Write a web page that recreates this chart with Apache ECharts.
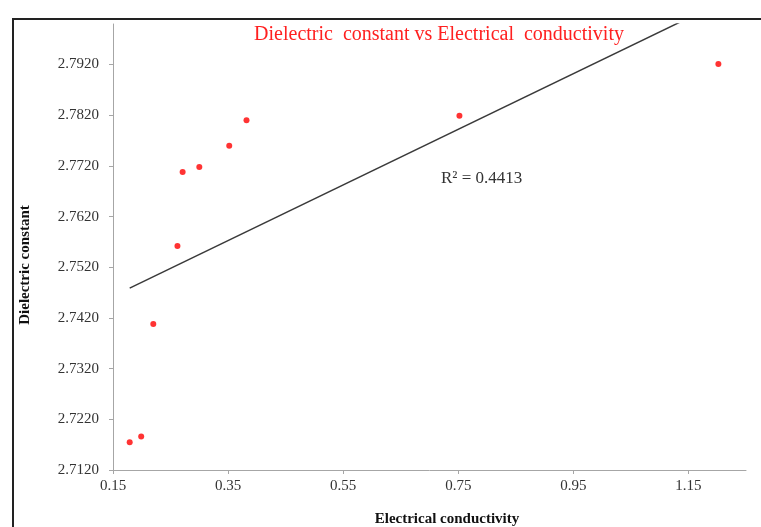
<!DOCTYPE html>
<html>
<head>
<meta charset="utf-8">
<script src="https://cdn.jsdelivr.net/npm/echarts@6/dist/echarts.min.js"></script>
<style>html,body{margin:0;padding:0;background:#fff}#c{width:761px;height:527px}</style>
</head>
<body>
<div id="c"></div>
<script>
const conductivity = [0.179, 0.199, 0.220, 0.262, 0.271, 0.300, 0.352, 0.382, 0.752, 1.202];
const dielectric   = [2.7175, 2.7186, 2.7408, 2.7562, 2.7708, 2.7718, 2.7760, 2.7810, 2.7819, 2.7921];
const xTicks = [0.15, 0.35, 0.55, 0.75, 0.95, 1.15];
const yTicks = [2.712, 2.722, 2.732, 2.742, 2.752, 2.762, 2.772, 2.782, 2.792];
const titleText = 'Dielectric  constant vs Electrical  conductivity';
const xName = 'Electrical conductivity';
const yName = 'Dielectric constant';
const r2Text = 'R\u00B2 = 0.4413';

// linear least squares trendline (Excel-style), derived from the data
const n = conductivity.length;
const mx = conductivity.reduce((a, b) => a + b, 0) / n;
const my = dielectric.reduce((a, b) => a + b, 0) / n;
let sxy = 0, sxx = 0;
for (let i = 0; i < n; i++) { sxy += (conductivity[i] - mx) * (dielectric[i] - my); sxx += (conductivity[i] - mx) ** 2; }
const slope = sxy / sxx, icpt = my - slope * mx;
const xMin = Math.min(...conductivity), xMax = Math.max(...conductivity);
const trend = [[xMin, icpt + slope * xMin], [xMax, icpt + slope * xMax]];

const serif = 'Liberation Serif';
const chart = echarts.init(document.getElementById('c'), null, { renderer: 'canvas' });
chart.setOption({
  animation: false,
  backgroundColor: '#ffffff',
  title: {
    text: titleText, left: 434, top: 20, textAlign: 'center',
    textStyle: { color: '#ff2020', fontFamily: serif, fontSize: 20, fontWeight: 'normal' }
  },
  grid: { left: 113, right: 15, top: 24, bottom: 57 },
  xAxis: {
    type: 'value', min: 0.15, max: 1.25,
    splitLine: { show: false },
    axisLine: { show: true, lineStyle: { color: '#a6a6a6', width: 1 } },
    axisTick: { show: true, length: 4, customValues: xTicks, lineStyle: { color: '#a6a6a6' } },
    axisLabel: { customValues: xTicks, color: '#333', fontFamily: serif, fontSize: 15, margin: 9,
      formatter: v => v.toFixed(2) }
  },
  yAxis: {
    type: 'value', min: 2.712, max: 2.8,
    splitLine: { show: false },
    axisLine: { show: true, lineStyle: { color: '#a6a6a6', width: 1 } },
    axisTick: { show: true, length: 4, customValues: yTicks, lineStyle: { color: '#a6a6a6' } },
    axisLabel: { customValues: yTicks, color: '#333', fontFamily: serif, fontSize: 15, margin: 14,
      formatter: v => v.toFixed(4) }
  },
  series: [
    {
      type: 'line', data: trend, symbol: 'none', clip: true,
      lineStyle: { color: '#3a3a3a', width: 1.5 }, z: 2
    },
    {
      type: 'scatter', data: conductivity.map((x, i) => [x, dielectric[i]]),
      symbol: 'circle', symbolSize: 6, itemStyle: { color: '#ff0000' }, z: 3
    }
  ],
  graphic: [
    { type: 'line', shape: { x1: 13, y1: 19, x2: 13, y2: 527 }, style: { stroke: '#222', lineWidth: 2 } },
    { type: 'line', shape: { x1: 12, y1: 19, x2: 761, y2: 19 }, style: { stroke: '#222', lineWidth: 2 } },
    { type: 'text', x: 447, y: 519, style: { text: xName, fill: '#111', font: 'bold 15px "Liberation Serif"',
      textAlign: 'center', textVerticalAlign: 'middle' } },
    { type: 'text', x: 25, y: 265, rotation: Math.PI / 2, style: { text: yName, fill: '#111',
      font: 'bold 15px "Liberation Serif"', textAlign: 'center', textVerticalAlign: 'middle' } },
    { type: 'text', x: 441, y: 179, style: { text: r2Text, fill: '#333', font: '17px "Liberation Serif"',
      textAlign: 'left', textVerticalAlign: 'middle' } }
  ]
});
</script>
</body>
</html>
